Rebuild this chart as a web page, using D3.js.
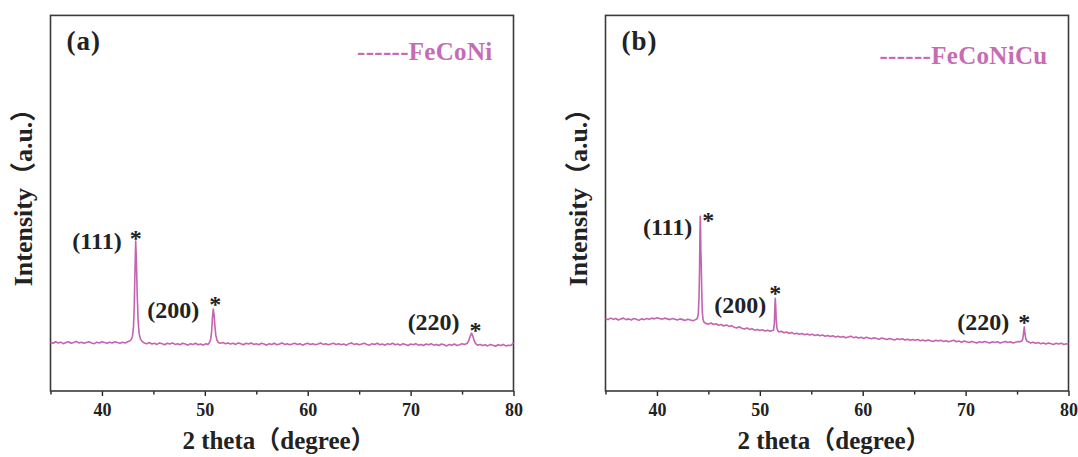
<!DOCTYPE html>
<html>
<head>
<meta charset="utf-8">
<script src="https://cdn.jsdelivr.net/npm/d3@7"></script>
<style>
  body { margin: 0; background: #fff; }
  text { font-family: "Liberation Serif", "Noto Sans CJK SC", serif; font-weight: bold; }
</style>
</head>
<body>
<div id="chart"></div>
<script>
// Scan data: [2 theta, intensity (a.u.)]
var feconiScan = [
  [35.00,130],[35.25,127],[35.50,131],[35.75,128],[36.00,130],[36.25,126],[36.50,129],[36.75,131],
  [37.00,127],[37.25,129],[37.50,132],[37.75,128],[38.00,130],[38.25,127],[38.50,129],[38.75,131],
  [39.00,128],[39.25,126],[39.50,130],[39.75,128],[40.00,131],[40.25,129],[40.50,127],[40.75,130],
  [41.00,128],[41.25,131],[41.50,129],[41.75,127],[42.00,130],[42.25,128],[42.50,131],
  [42.70,133],[42.85,137],[42.97,146],[43.07,172],[43.14,225],[43.21,320],[43.28,399],[43.35,345],
  [43.43,255],[43.52,185],[43.62,152],[43.75,138],[43.90,132],
  [44.10,128],[44.35,126],[44.60,129],[44.85,125],[45.10,127],[45.35,124],[45.60,128],[45.85,126],
  [46.10,123],[46.35,127],[46.60,125],[46.85,128],[47.10,124],[47.35,126],[47.60,123],[47.85,127],
  [48.10,125],[48.35,122],[48.60,126],[48.85,124],[49.10,127],[49.35,123],[49.60,125],[49.85,122],
  [50.10,126],[50.30,124],
  [50.45,129],[50.57,138],[50.66,158],[50.74,195],[50.82,218],[50.90,203],[50.98,172],[51.07,148],
  [51.18,135],[51.32,129],
  [51.50,127],[51.75,129],[52.00,126],[52.25,128],[52.50,125],[52.75,127],[53.00,124],[53.25,128],
  [53.50,126],[53.75,123],[54.00,127],[54.25,125],[54.50,128],[54.75,124],[55.00,126],[55.25,123],
  [55.50,127],[55.75,125],[56.00,122],[56.25,126],[56.50,124],[56.75,127],[57.00,123],[57.25,125],
  [57.50,128],[57.75,124],[58.00,126],[58.25,123],[58.50,125],[58.75,127],[59.00,124],[59.25,126],
  [59.50,122],[59.75,125],[60.00,127],[60.25,124],[60.50,126],[60.75,123],[61.00,125],[61.25,128],
  [61.50,124],[61.75,126],[62.00,123],[62.25,125],[62.50,127],[62.75,124],[63.00,126],[63.25,123],
  [63.50,125],[63.75,122],[64.00,126],[64.25,128],[64.50,124],[64.75,126],[65.00,123],[65.25,125],
  [65.50,127],[65.75,124],[66.00,122],[66.25,126],[66.50,124],[66.75,127],[67.00,123],[67.25,125],
  [67.50,122],[67.75,126],[68.00,124],[68.25,127],[68.50,123],[68.75,125],[69.00,122],[69.25,126],
  [69.50,124],[69.75,121],[70.00,125],[70.25,123],[70.50,126],[70.75,122],[71.00,124],[71.25,121],
  [71.50,125],[71.75,123],[72.00,126],[72.25,122],[72.50,124],[72.75,121],[73.00,125],[73.25,123],
  [73.50,120],[73.75,124],[74.00,122],[74.25,125],[74.50,121],[74.75,123],[75.00,126],[75.25,124],
  [75.50,127],[75.65,134],[75.80,147],[75.93,154],[76.05,146],[76.18,134],[76.32,126],
  [76.50,122],[76.75,124],[77.00,121],[77.25,123],[77.50,120],[77.75,124],[78.00,122],[78.25,119],
  [78.50,123],[78.75,121],[79.00,124],[79.25,120],[79.50,122],[79.75,121],[80.00,128]
];

var feconicuScan = [
  [35.00,193],[35.25,190],[35.50,194],[35.75,191],[36.00,193],[36.25,189],[36.50,192],[36.75,194],
  [37.00,190],[37.25,192],[37.50,189],[37.75,193],[38.00,191],[38.25,188],[38.50,192],[38.75,190],
  [39.00,193],[39.25,191],[39.50,194],[39.75,192],[40.00,195],[40.25,193],[40.50,191],[40.75,194],
  [41.00,192],[41.25,190],[41.50,193],[41.75,191],[42.00,189],[42.25,192],[42.50,190],[42.75,188],
  [43.00,191],[43.25,189],[43.50,187],[43.75,190],
  [43.92,193],[44.02,205],[44.09,250],[44.14,320],[44.18,420],[44.21,465],[44.24,430],[44.27,372],
  [44.31,335],[44.35,270],[44.41,210],[44.48,190],[44.58,183],
  [44.75,180],[45.00,178],[45.25,181],[45.50,177],[45.75,179],[46.00,175],[46.25,177],[46.50,173],
  [46.75,176],[47.00,172],[47.25,174],[47.50,170],[47.75,168],[48.00,171],[48.25,167],[48.50,165],
  [48.75,168],[49.00,164],[49.25,166],[49.50,162],[49.75,164],[50.00,161],[50.25,163],[50.50,160],
  [50.75,162],[51.00,159],[51.20,161],
  [51.33,162],[51.41,180],[51.46,225],[51.50,247],[51.54,228],[51.59,190],[51.66,168],[51.76,160],
  [51.90,157],[52.10,159],[52.35,155],[52.60,157],[52.85,153],[53.10,156],[53.35,152],[53.60,154],
  [53.85,151],[54.10,153],[54.35,150],[54.60,152],[54.85,149],[55.10,151],[55.35,148],[55.60,150],
  [55.85,147],[56.10,149],[56.35,146],[56.60,148],[56.85,145],[57.10,147],[57.35,144],[57.60,146],
  [57.85,143],[58.10,145],[58.35,142],[58.60,144],[58.85,146],[59.10,142],[59.35,144],[59.60,141],
  [59.85,143],[60.10,140],[60.35,143],[60.60,141],[60.85,139],[61.10,142],[61.35,140],[61.60,138],
  [61.85,141],[62.10,139],[62.35,137],[62.60,140],[62.85,138],[63.10,136],[63.35,139],[63.60,137],
  [63.85,139],[64.10,136],[64.35,138],[64.60,135],[64.85,137],[65.10,135],[65.35,137],[65.60,134],
  [65.85,136],[66.10,133],[66.35,136],[66.60,134],[66.85,132],[67.10,135],[67.35,133],[67.60,135],
  [67.85,132],[68.10,134],[68.35,131],[68.60,133],[68.85,135],[69.10,131],[69.35,133],[69.60,130],
  [69.85,133],[70.10,131],[70.35,129],[70.60,132],[70.85,130],[71.10,128],[71.35,131],[71.60,129],
  [71.85,132],[72.10,130],[72.35,128],[72.60,131],[72.85,129],[73.10,131],[73.35,128],[73.60,130],
  [73.85,132],[74.10,129],[74.35,131],[74.60,128],[74.85,130],[75.10,132],[75.30,131],
  [75.45,133],[75.56,139],[75.63,154],[75.70,170],[75.76,155],[75.84,140],[75.95,133],[76.10,131],
  [76.30,128],[76.55,130],[76.80,127],[77.05,129],[77.30,126],[77.55,128],[77.80,125],[78.05,128],
  [78.30,126],[78.55,124],[78.80,127],[79.05,125],[79.30,127],[79.55,124],[79.80,126],[80.00,125]
];

// Peak annotations
var peakNames = ["(111)", "(200)", "(220)"];
var peakThetaA = [43.28, 50.82, 75.93];
var peakTopA = [399, 218, 154];
var peakThetaB = [44.21, 51.50, 75.70];
var peakTopB = [465, 247, 170];

// Axis ticks
var xMajorTicks = [40, 50, 60, 70, 80];
var xMinorTicks = [35, 45, 55, 65, 75];

var svgWidth = 1078;
var svgHeight = 457;
var plotTop = 15.4;
var plotBottom = 391;
var lineColor = "#c464b0";
var labelColor = "#c76cb3";
var inkColor = "#222";

var svg = d3.select("#chart")
  .append("svg")
  .attr("width", svgWidth)
  .attr("height", svgHeight);

var yScale = d3.scaleLinear()
  .domain([0, 1000])
  .range([plotBottom, plotTop]);

var panels = [
  {
    left: 50.5, right: 513.5, tag: "(a)", legend: "------FeCoNi", legendY: 60,
    scan: feconiScan, peakTheta: peakThetaA, peakTop: peakTopA,
    labelOff: [[-14, 0], [-14, 1], [-12, -11]],
    starOff: [[0, -6], [2, -8], [4, -6]]
  },
  {
    left: 605.5, right: 1068.5, tag: "(b)", legend: "------FeCoNiCu", legendY: 64,
    scan: feconicuScan, peakTheta: peakThetaB, peakTop: peakTopB,
    labelOff: [[-8, 11], [-9, 7], [-15, -5]],
    starOff: [[8, 1], [0, -8], [0, -8]]
  }
];

panels.forEach(function (p) {
  var xScale = d3.scaleLinear()
    .domain([35, 80])
    .range([p.left, p.right]);
  var g = svg.append("g");

  // minor + major ticks on the bottom
  g.append("g")
    .attr("transform", `translate(0, ${plotBottom})`)
    .call(d3.axisBottom(xScale).tickValues(xMinorTicks).tickSize(3.5).tickFormat(""))
    .call(a => a.select(".domain").remove())
    .call(a => a.selectAll("line").attr("stroke", inkColor).attr("stroke-width", 1.4));
  g.append("g")
    .attr("transform", `translate(0, ${plotBottom})`)
    .call(d3.axisBottom(xScale).tickValues(xMajorTicks).tickSize(5).tickPadding(7))
    .call(a => a.select(".domain").remove())
    .call(a => a.selectAll("line").attr("stroke", inkColor).attr("stroke-width", 1.4))
    .call(a => a.selectAll("text")
      .attr("fill", inkColor)
      .style("font-size", "18px")
      .style("font-weight", "bold")
      .style("font-family", "'Liberation Serif', serif"));

  // frame
  g.append("rect")
    .attr("x", p.left)
    .attr("y", plotTop)
    .attr("width", p.right - p.left)
    .attr("height", plotBottom - plotTop)
    .attr("fill", "none")
    .attr("stroke", "#3a3a3a")
    .attr("stroke-width", 1.6);

  // scan line
  var line = d3.line()
    .x(d => xScale(d[0]))
    .y(d => yScale(d[1]));
  g.append("path")
    .datum(p.scan)
    .attr("d", line)
    .attr("fill", "none")
    .attr("stroke", lineColor)
    .attr("stroke-width", 1.6)
    .attr("stroke-linejoin", "round");

  // peak labels and asterisks
  peakNames.forEach(function (name, i) {
    var px = xScale(p.peakTheta[i]);
    var py = yScale(p.peakTop[i]);
    g.append("text")
      .attr("x", px + p.labelOff[i][0])
      .attr("y", py + p.labelOff[i][1])
      .attr("text-anchor", "end")
      .attr("dominant-baseline", "central")
      .attr("fill", inkColor)
      .style("font-size", "24px")
      .text(name);
    g.append("text")
      .attr("x", px + p.starOff[i][0])
      .attr("y", py + p.starOff[i][1] + 11)
      .attr("text-anchor", "middle")
      .attr("fill", inkColor)
      .style("font-size", "24px")
      .text("*");
  });

  // panel tag
  g.append("text")
    .attr("x", p.left + 16)
    .attr("y", 50)
    .attr("fill", inkColor)
    .style("font-size", "27px")
    .style("letter-spacing", "1px")
    .text(p.tag);

  // legend
  g.append("text")
    .attr("x", p.right - 21)
    .attr("y", p.legendY)
    .attr("text-anchor", "end")
    .attr("fill", labelColor)
    .style("font-size", "25px")
    .style("letter-spacing", "0.3px")
    .text(p.legend);

  // x axis title
  g.append("text")
    .attr("x", (p.left + p.right) / 2 - 3)
    .attr("y", 449)
    .attr("text-anchor", "middle")
    .attr("fill", inkColor)
    .style("font-size", "25px")
    .text("2 theta（degree）");

  // y axis title
  g.append("text")
    .attr("transform", `translate(${p.left - 18.5}, 191) rotate(-90)`)
    .attr("text-anchor", "middle")
    .attr("fill", inkColor)
    .style("font-size", "26px")
    .text("Intensity（a.u.）");
});
</script>
</body>
</html>
